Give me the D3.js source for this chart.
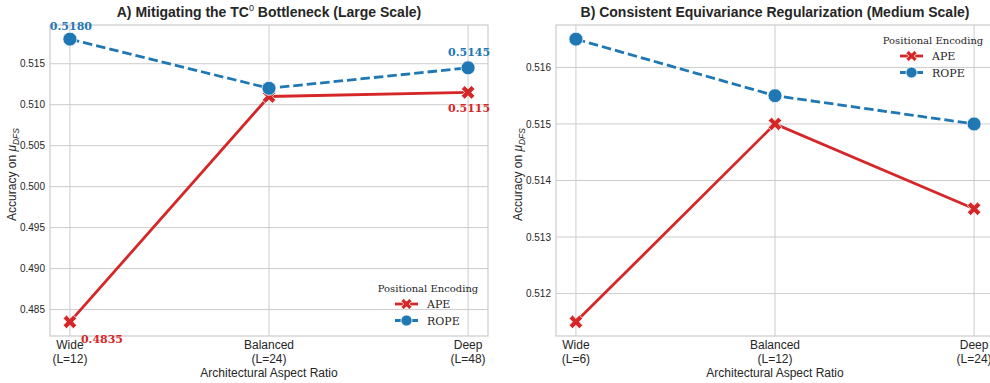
<!DOCTYPE html>
<html><head><meta charset="utf-8">
<script src="https://cdn.jsdelivr.net/npm/d3@7"></script>
<style>
body{margin:0;background:#fff;}
svg{display:block;}
</style></head>
<body>
<svg id="chart" width="990" height="383"></svg>
<script>
// ---------- DATA ----------
const categoriesA = [["Wide","(L=12)"],["Balanced","(L=24)"],["Deep","(L=48)"]];
const categoriesB = [["Wide","(L=6)"],["Balanced","(L=12)"],["Deep","(L=24)"]];
const apeA  = [0.4835, 0.5110, 0.5115];
const ropeA = [0.5180, 0.5120, 0.5145];
const apeB  = [0.5115, 0.5150, 0.5135];
const ropeB = [0.5165, 0.5155, 0.5150];
const ticksA = [0.485, 0.490, 0.495, 0.500, 0.505, 0.510, 0.515];
const ticksB = [0.512, 0.513, 0.514, 0.515, 0.516];
const seriesNames = ["APE", "ROPE"];
// annotations for panel A: [series, index, label]
const annotationsA = [["ROPE",0,"0.5180"],["ROPE",2,"0.5145"],["APE",2,"0.5115"],["APE",0,"0.4835"]];

// ---------- STYLE ----------
const RED = "#d62728", BLUE = "#1f77b4", GRID = "#cccccc", TXT = "#262626";
const SANS = "'Liberation Sans', Arial, sans-serif";
const SERIF = "'DejaVu Serif', serif";
const annOffsets = { // dx, dy, anchor (pixel offsets from the point)
  "ROPE-0": [1,-9,"middle"], "ROPE-2": [1,-12,"middle"],
  "APE-2": [1,20,"middle"], "APE-0": [11,21,"start"]
};

const svg = d3.select("#chart");

function xPath(r){
  // filled X marker (matplotlib 'X')
  const u = r/2.83;
  const pts = [[-1,-3],[1,-3],[1,-1],[3,-1],[3,1],[1,1],[1,3],[-1,3],[-1,1],[-3,1],[-3,-1],[-1,-1]];
  const c = Math.SQRT1_2;
  return "M" + pts.map(([x,y]) => [ (x - y)*c*u, (x + y)*c*u ].map(v=>v.toFixed(2)).join(",")).join("L") + "Z";
}

function drawMarker(g, name, x, y, size){
  if(name === "APE"){
    g.append("path").attr("d", xPath(size)).attr("transform", `translate(${x},${y})`)
      .attr("fill", RED).attr("stroke", "#fff").attr("stroke-width", 0.8);
  } else {
    g.append("circle").attr("cx", x).attr("cy", y).attr("r", size)
      .attr("fill", BLUE).attr("stroke", "#fff").attr("stroke-width", 0.8);
  }
}

function panel(opt){
  const {left, right, top, bottom, cats, ape, rope, ticks, title, legendPos, annotations} = opt;
  const g = svg.append("g");
  const all = ape.concat(rope);
  const mn = d3.min(all), mx = d3.max(all), m = (mx - mn) * 0.05;
  const y = d3.scaleLinear().domain([mn - m, mx + m]).range([bottom, top]);
  const x = d3.scaleLinear().domain([-0.1, cats.length - 0.9]).range([left, right]);

  // grid
  g.append("g").selectAll("line.h").data(ticks).join("line")
    .attr("x1", left).attr("x2", right).attr("y1", d=>y(d)).attr("y2", d=>y(d))
    .attr("stroke", GRID).attr("stroke-width", 1);
  g.append("g").selectAll("line.v").data(cats.map((c,i)=>i)).join("line")
    .attr("x1", d=>x(d)).attr("x2", d=>x(d)).attr("y1", top).attr("y2", bottom)
    .attr("stroke", GRID).attr("stroke-width", 1);
  // frame
  g.append("rect").attr("x", left).attr("y", top).attr("width", right-left).attr("height", bottom-top)
    .attr("fill", "none").attr("stroke", GRID).attr("stroke-width", 1.2);

  // y axis via d3 axis
  const yAxis = d3.axisLeft(y).tickValues(ticks).tickFormat(d3.format(".3f")).tickSize(0).tickPadding(5);
  const ya = g.append("g").attr("transform", `translate(${left},0)`).call(yAxis);
  ya.select(".domain").remove();
  ya.selectAll("text").attr("font-family", SANS).attr("font-size", 10).attr("fill", TXT);

  // x tick labels
  const xt = g.append("g");
  cats.forEach((c,i)=>{
    const t = xt.append("text").attr("x", x(i)).attr("y", 349).attr("text-anchor","middle")
      .attr("font-family", SANS).attr("font-size", 12).attr("fill", TXT);
    t.append("tspan").attr("x", x(i)).text(c[0]);
    t.append("tspan").attr("x", x(i)).attr("dy", 13.5).text(c[1]);
  });
  // x label
  g.append("text").attr("x", (left+right)/2).attr("y", 377).attr("text-anchor","middle")
    .attr("font-family", SANS).attr("font-size", 12).attr("fill", TXT).text("Architectural Aspect Ratio");
  // y label
  const yl = g.append("text").attr("transform", `translate(${left-34},${(top+bottom)/2 - 6}) rotate(-90)`)
    .attr("text-anchor","middle").attr("font-family", SANS).attr("font-size", 12).attr("fill", TXT);
  yl.append("tspan").text("Accuracy on ");
  yl.append("tspan").attr("font-style","italic").text("μ");
  yl.append("tspan").attr("font-style","italic").attr("font-size", 8.5).attr("dy", 3).text("DFS");

  // title
  const tt = g.append("text").attr("x", (left+right)/2).attr("y", 17).attr("text-anchor","middle")
    .attr("font-family", SANS).attr("font-size", 14).attr("font-weight","bold").attr("fill", TXT);
  title(tt);

  // lines
  const line = d3.line().x((d,i)=>x(i)).y(d=>y(d));
  g.append("path").datum(ape).attr("d", line).attr("fill","none").attr("stroke", RED).attr("stroke-width", 2.8);
  g.append("path").datum(rope).attr("d", line).attr("fill","none").attr("stroke", BLUE).attr("stroke-width", 2.8)
    .attr("stroke-dasharray", "9.5,4");
  const mg = g.append("g");
  ape.forEach((d,i)=>drawMarker(mg, "APE", x(i), y(d), 6.8));
  rope.forEach((d,i)=>drawMarker(mg, "ROPE", x(i), y(d), 7));

  // annotations
  if(annotations){
    annotations.forEach(([s,i,lab])=>{
      const v = s === "APE" ? ape[i] : rope[i];
      const o = annOffsets[s+"-"+i];
      g.append("text").attr("x", x(i)+o[0]).attr("y", y(v)+o[1]).attr("text-anchor", o[2])
        .attr("font-family", SERIF).attr("font-weight","bold").attr("font-size", 11)
        .attr("fill", s === "APE" ? RED : BLUE).text(lab);
    });
  }

  // legend
  const [lx, ly] = legendPos; // center of title
  const lg = g.append("g");
  lg.append("text").attr("x", lx).attr("y", ly+4).attr("text-anchor","middle")
    .attr("font-family", SERIF).attr("font-size", 10).attr("fill", TXT).text("Positional Encoding");
  seriesNames.forEach((s,k)=>{
    const ry = ly + 16 + k*16.5;
    const x0 = lx - 33, x1 = lx - 10;
    lg.append("line").attr("x1", x0).attr("x2", x1).attr("y1", ry).attr("y2", ry)
      .attr("stroke", s==="APE"?RED:BLUE).attr("stroke-width", 2.8)
      .attr("stroke-dasharray", s==="APE"?null:"9.5,4");
    drawMarker(lg, s, (x0+x1)/2, ry, 5.5);
    lg.append("text").attr("x", lx - 1).attr("y", ry + 4).attr("font-family", SERIF).attr("font-size", 11)
      .attr("fill", TXT).text(s);
  });
}

panel({left:50, right:488, top:25, bottom:336, cats:categoriesA, ape:apeA, rope:ropeA, ticks:ticksA,
  legendPos:[428, 288], annotations:annotationsA,
  title: t => { t.append("tspan").text("A) Mitigating the TC");
    t.append("tspan").attr("font-size", 9).attr("font-weight","normal").attr("dy", -6).text("0");
    t.append("tspan").attr("dy", 6).text(" Bottleneck (Large Scale)"); }});
panel({left:556, right:994, top:25, bottom:336, cats:categoriesB, ape:apeB, rope:ropeB, ticks:ticksB,
  legendPos:[933, 40], annotations:null,
  title: t => { t.text("B) Consistent Equivariance Regularization (Medium Scale)"); }});
</script>
</body></html>
